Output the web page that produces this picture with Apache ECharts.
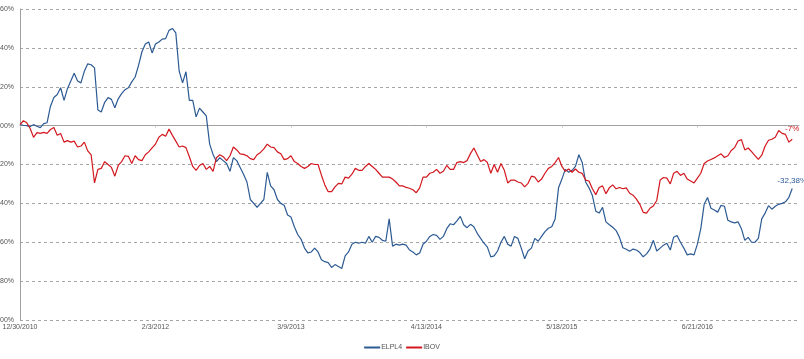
<!DOCTYPE html>
<html>
<head>
<meta charset="utf-8">
<script src="https://cdn.jsdelivr.net/npm/echarts@6/dist/echarts.min.js"></script>
<style>
html,body{margin:0;padding:0;background:#fff;}
#chart{width:804px;height:359px;}
</style>
</head>
<body>
<div id="chart"></div>
<script>
// x tick labels (one every 40 steps of ~10 days)
const tickLabels = ["12/30/2010", "2/3/2012", "3/9/2013", "4/13/2014", "5/18/2015", "6/21/2016"];
const categoryCount = 231;
const yTickLabels = { "-100": "-100%", "-80": "-80%", "-60": "-60%", "-40": "-40%", "-20": "-20%", "0": "00%", "20": "20%", "40": "40%", "60": "60%" };
const seriesNames = ["ELPL4", "IBOV"];
const endLabels = ["-32,38%", "-7%"];

const elpl4 = [
  0.5, 0.2, 0, -0.5, 0.5, -0.3, -1, 1, 1.5, 10,
  14.5, 16, 19.5, 13, 19, 23, 27, 23, 22, 28,
  31.8, 31.3, 29.7, 8, 7, 12, 14.4, 13.5, 9.2, 13.8,
  16.5, 18.5, 19.5, 22.5, 25, 31, 38, 42, 43, 37.4,
  42, 43, 44.5, 44.8, 49, 50, 47.7, 28, 22, 27.7,
  13, 13, 4.5, 9, 7, 5, -9.5, -14.8, -18.5, -16.5,
  -18, -19.5, -23.5, -16.5, -18, -21.5, -25, -29, -38, -40,
  -42, -40, -38, -24, -31, -33, -38, -40, -41, -46,
  -47, -52, -56, -58.5, -63, -65.5, -65, -63, -65, -69,
  -70, -70.5, -73, -71.5, -72.5, -73.5, -67, -65, -61, -60,
  -60.5, -60, -60.5, -57, -60, -57, -57.5, -59, -59.5, -48,
  -62, -61, -61.5, -61, -61.5, -64, -65, -66.5, -65.5, -61,
  -59.5, -57, -56, -56.5, -58.5, -57, -53, -50.5, -51, -49,
  -46.7, -51, -52.5, -50.8, -52, -55.4, -58, -60.5, -62.5, -67.5,
  -67, -64.5, -60, -57, -61, -62, -57, -58, -63, -68.5,
  -64.5, -63, -58, -59.5, -57, -54.5, -52.8, -52, -48, -32,
  -27.5, -22.5, -24, -23, -21, -15, -19, -29, -32, -36,
  -44, -45, -42, -49.5, -51, -52.3, -54, -57.5, -62.8, -63.6,
  -64.6, -63.5, -64, -65.3, -67.5, -66, -63.5, -59, -64.5, -63,
  -61.5, -60.5, -64, -57.4, -56.5, -60, -63, -66.5, -66, -66.5,
  -61, -53, -40.5, -37, -42.5, -43.4, -44.5, -41, -41.5, -48.7,
  -49.5, -50, -49.5, -53, -59, -57.5, -60, -60, -58, -48,
  -45, -41.2, -43, -41.5, -40.5, -40, -39.2, -37, -32.38
];

const ibov = [
  0.5, 2.5, 1.5, -1.5, -6, -3.6, -4, -3.5, -4, -2,
  -1, -5, -4, -8.5, -7.7, -8.5, -8, -11, -10.5, -8.5,
  -13, -15, -29.5, -22.5, -22, -18.5, -20, -21.5, -26, -20.5,
  -18.5, -15.5, -15.8, -19.5, -15.5, -17.5, -18, -15, -13.5, -11.5,
  -9.5, -6, -4.5, -5.5, -1.8, -5, -8, -11, -10.5, -11.3,
  -16, -21, -23, -20.5, -19.5, -22.5, -21, -23.5, -16.5, -15,
  -16, -18, -15.5, -11, -12.5, -14.5, -14.8, -15.5, -17, -17.5,
  -15, -13.8, -12, -9.5, -11, -11.3, -13.5, -14.5, -17.5, -17,
  -15.5, -18.5, -19.5, -21, -22, -21, -19.5, -20, -20, -25.5,
  -30.5, -34, -34, -31.5, -29.7, -30, -26.5, -27, -25, -22,
  -23, -23, -21, -19.5, -21, -22.5, -24.5, -26.5, -26.5, -26.5,
  -27.5, -29, -31, -31, -31.8, -32.2, -33, -34.5, -32, -26.5,
  -26.5, -24.5, -24, -22.5, -24.5, -23.5, -20.5, -22.5, -22.5, -19,
  -18.5, -19, -18, -14.4, -11.5, -15, -18.5, -17.5, -19, -24.5,
  -20, -24, -19.5, -23, -29.5, -28, -28, -29, -29.5, -31.5,
  -29.7, -26, -26.5, -29, -27.5, -24.5, -22, -21, -19, -16.4,
  -21, -23.5, -22.3, -24, -22.3, -24, -24.6, -28, -28.5, -32.5,
  -35.5, -31.8, -31, -35, -32, -30.5, -32.5, -31.8, -32.5, -32,
  -34.8, -35.8, -37.8, -40.5, -44.6, -45, -42.5, -41.3, -38.5, -28,
  -26.7, -27, -30, -24.5, -23.5, -25.6, -24.5, -27.5, -28.5, -29.5,
  -27, -24.5, -19.5, -18.2, -17.4, -16.6, -15.5, -14.5, -16.4, -15.5,
  -12.8, -11.3, -7.9, -7.2, -12.5, -11.5, -13.4, -15.4, -17.4, -15.2,
  -10.5, -7.5, -7, -6, -2.5, -4, -4.5, -8.5, -7
];

const colors = ["#2c5a93", "#d2171e"];
const FONT = "Liberation Sans, Arial, sans-serif";

const categories = [];
for (let i = 0; i < categoryCount; i++) {
  categories.push(i % 40 === 0 && tickLabels[i / 40] ? tickLabels[i / 40] : "");
}

const chart = echarts.init(document.getElementById("chart"), null, { renderer: "canvas" });
chart.setOption({
  animation: false,
  backgroundColor: "#ffffff",
  textStyle: { fontFamily: FONT },
  grid: { left: 20, right: 5, top: 9, bottom: 39, containLabel: false, outerBoundsMode: "none" },
  legend: {
    bottom: 3,
    left: "center",
    icon: "rect",
    itemWidth: 16,
    itemHeight: 2,
    itemGap: 4,
    textStyle: { fontSize: 7, color: "#555555", padding: [0, 0, 0, -4] },
    data: seriesNames
  },
  xAxis: [
    {
      type: "category",
      data: categories,
      boundaryGap: false,
      position: "bottom",
      axisLine: { show: true, onZero: true, lineStyle: { color: "#a0a0a0", width: 1 } },
      axisTick: { show: true, length: 2, interval: 39, lineStyle: { color: "#c8c8c8" } },
      axisLabel: { show: false },
      splitLine: { show: false }
    },
    {
      type: "category",
      data: categories,
      boundaryGap: false,
      position: "bottom",
      axisLine: { show: false, onZero: false },
      axisTick: { show: false },
      axisLabel: { show: true, interval: 39, fontSize: 7, color: "#555555", margin: 4 },
      splitLine: { show: false }
    }
  ],
  yAxis: {
    type: "value",
    min: -100,
    max: 60,
    interval: 20,
    axisLine: { show: true, lineStyle: { color: "#a0a0a0", width: 1 } },
    axisTick: { show: false },
    axisLabel: {
      fontSize: 7,
      color: "#555555",
      margin: 6,
      formatter: v => yTickLabels[String(v)] || ""
    },
    splitLine: { show: true, lineStyle: { color: "#a6a6a6", type: [3, 3], width: 1 } }
  },
  series: [
    {
      name: seriesNames[0],
      type: "line",
      xAxisIndex: 0,
      data: elpl4,
      symbol: "none",
      showSymbol: false,
      color: colors[0],
      lineStyle: { width: 1.2, color: colors[0] },
      endLabel: {
        show: true, formatter: endLabels[0], color: colors[0], fontSize: 8, fontFamily: FONT,
        distance: 0, align: "center", verticalAlign: "bottom", offset: [0, -4]
      },
      z: 3
    },
    {
      name: seriesNames[1],
      type: "line",
      xAxisIndex: 0,
      data: ibov,
      symbol: "none",
      showSymbol: false,
      color: colors[1],
      lineStyle: { width: 1.2, color: colors[1] },
      endLabel: {
        show: true, formatter: endLabels[1], color: colors[1], fontSize: 8, fontFamily: FONT,
        distance: 0, align: "center", verticalAlign: "bottom", offset: [0, -6]
      },
      z: 4
    }
  ]
});
</script>
</body>
</html>
